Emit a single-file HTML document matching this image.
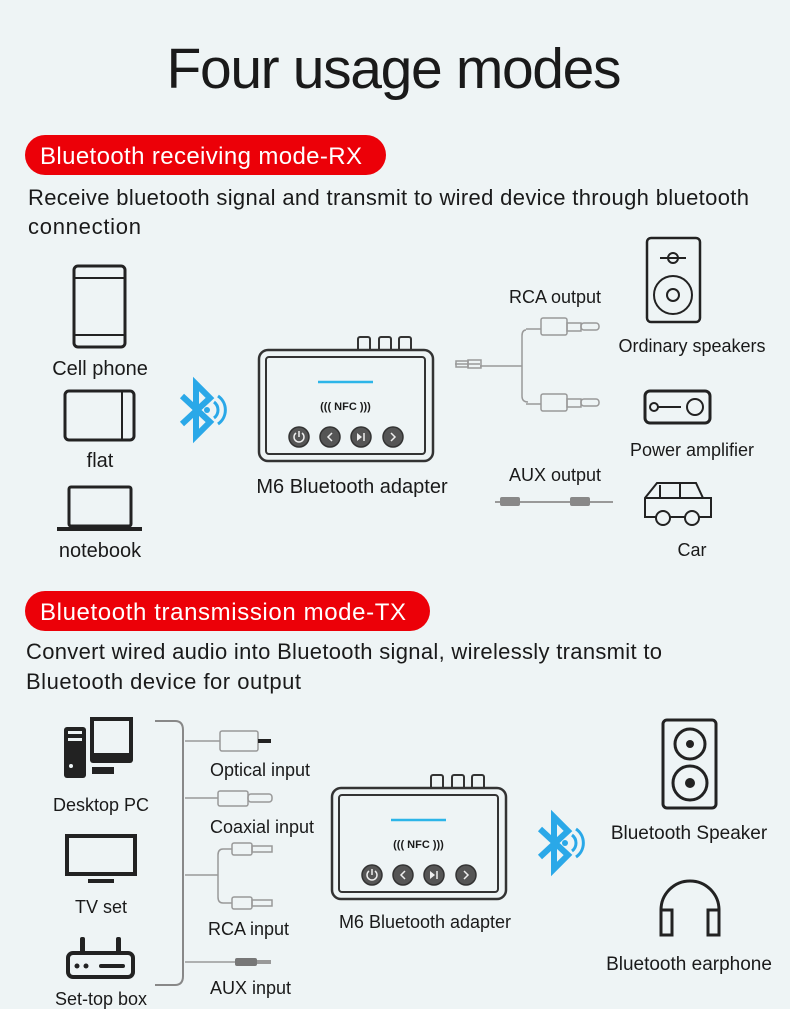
<!DOCTYPE html>
<html><head><meta charset="utf-8"><style>
html,body{margin:0;padding:0;background:#eef4f5}
svg{display:block}
text{font-family:"Liberation Sans",sans-serif;fill:#1a1a1a}
</style></head><body>
<svg width="790" height="1009" viewBox="0 0 790 1009" xmlns="http://www.w3.org/2000/svg">
<defs>
<g id="bt">
  <polyline points="-14,-14 14,12 0,26 0,-26 14,-12 -14,14" fill="none" stroke="#2aa8e8" stroke-width="6" stroke-linejoin="miter"/>
  <circle cx="11" cy="0" r="3" fill="#2aa8e8"/>
  <path d="M18,-8 A10,10 0 0 1 18,8" fill="none" stroke="#2aa8e8" stroke-width="3"/>
  <path d="M22,-14 A17,17 0 0 1 22,14" fill="none" stroke="#2aa8e8" stroke-width="3"/>
</g>
<g id="dev">
  <rect x="99" y="-13" width="12" height="14" rx="2" fill="none" stroke="#333" stroke-width="2"/>
  <rect x="120" y="-13" width="12" height="14" rx="2" fill="none" stroke="#333" stroke-width="2"/>
  <rect x="140" y="-13" width="12" height="14" rx="2" fill="none" stroke="#333" stroke-width="2"/>
  <rect x="0" y="0" width="174" height="111" rx="9" fill="#eef4f5" stroke="#333" stroke-width="2.5"/>
  <rect x="7" y="7" width="159" height="97" rx="3" fill="none" stroke="#333" stroke-width="2"/>
  <line x1="59" y1="32" x2="114" y2="32" stroke="#2cb5e8" stroke-width="2.5"/>
  <text x="86.5" y="60" font-size="11" font-weight="bold" text-anchor="middle" fill="#333">((( NFC )))</text>
  <g fill="#555" stroke="#333" stroke-width="1.5">
    <circle cx="40" cy="87" r="10"/><circle cx="71" cy="87" r="10"/><circle cx="102" cy="87" r="10"/><circle cx="134" cy="87" r="10"/>
  </g>
  <g fill="none" stroke="#eee" stroke-width="1.5">
    <path d="M37,83 A5,5 0 1 0 43,83"/><line x1="40" y1="81" x2="40" y2="87"/>
    <polyline points="73,83 69,87 73,91"/>
    <polyline points="132,83 136,87 132,91"/>
  </g>
  <polygon points="98,83 98,91 103,87" fill="#eee"/><line x1="105" y1="83" x2="105" y2="91" stroke="#eee" stroke-width="1.5"/>
</g>
</defs>

<text x="394" y="88" font-size="57" text-anchor="middle" textLength="455" fill="#111">Four usage modes</text>

<!-- Section 1 -->
<rect x="25" y="135" width="361" height="40" rx="20" fill="#ec0008"/>
<text x="40" y="164" font-size="24" fill="#fff" style="fill:#fff" textLength="322">Bluetooth receiving mode-RX</text>
<text x="28" y="205" font-size="22" textLength="721">Receive bluetooth signal and transmit to wired device through bluetooth</text>
<text x="28" y="234" font-size="22" textLength="113">connection</text>

<!-- phone -->
<rect x="74" y="266" width="51" height="81" rx="4" fill="none" stroke="#222" stroke-width="3"/>
<line x1="74" y1="278" x2="125" y2="278" stroke="#222" stroke-width="2"/>
<line x1="74" y1="335" x2="125" y2="335" stroke="#222" stroke-width="2"/>
<text x="100" y="375" font-size="20" text-anchor="middle">Cell phone</text>
<!-- tablet -->
<rect x="65" y="391" width="69" height="49" rx="4" fill="none" stroke="#222" stroke-width="3"/>
<line x1="122" y1="391" x2="122" y2="440" stroke="#222" stroke-width="2"/>
<text x="100" y="467" font-size="20" text-anchor="middle">flat</text>
<!-- laptop -->
<rect x="69" y="487" width="62" height="39" rx="2" fill="none" stroke="#222" stroke-width="3"/>
<rect x="57" y="527" width="85" height="4" fill="#222"/>
<text x="100" y="557" font-size="20" text-anchor="middle">notebook</text>

<use href="#bt" x="196" y="410"/>
<use href="#dev" x="259" y="350"/>
<text x="352" y="493" font-size="20" text-anchor="middle">M6 Bluetooth adapter</text>

<!-- RCA output cable -->
<text x="555" y="303" font-size="18" text-anchor="middle">RCA output</text>
<g fill="none" stroke="#999" stroke-width="1.5">
  <path d="M455,364 L480,364 M480,366 L522,366 M526,330 Q522,330 522,336 L522,396 Q522,402 528,402"/>
  <path d="M526,329 L541,329 M526,404 L541,404"/>
  <rect x="541" y="318" width="26" height="17" rx="2"/><rect x="567" y="323" width="14" height="8"/><rect x="581" y="323" width="18" height="7" rx="3"/>
  <rect x="541" y="394" width="26" height="17" rx="2"/><rect x="567" y="399" width="14" height="8"/><rect x="581" y="399" width="18" height="7" rx="3"/>
  <rect x="456" y="361" width="12" height="6"/><rect x="468" y="360" width="13" height="8"/>
</g>
<text x="555" y="481" font-size="18" text-anchor="middle">AUX output</text>
<line x1="495" y1="502" x2="613" y2="502" stroke="#999" stroke-width="2"/>
<rect x="500" y="497" width="20" height="9" rx="2" fill="#888"/>
<rect x="570" y="497" width="20" height="9" rx="2" fill="#888"/>

<!-- speaker -->
<rect x="647" y="238" width="53" height="84" rx="4" fill="none" stroke="#222" stroke-width="2.5"/>
<circle cx="673" cy="295" r="19" fill="none" stroke="#222" stroke-width="2"/>
<circle cx="673" cy="295" r="6" fill="none" stroke="#222" stroke-width="2"/>
<circle cx="673" cy="258" r="5" fill="none" stroke="#222" stroke-width="2"/>
<line x1="660" y1="258" x2="686" y2="258" stroke="#222" stroke-width="2"/>
<text x="692" y="352" font-size="18" text-anchor="middle">Ordinary speakers</text>
<!-- amp -->
<rect x="645" y="391" width="65" height="32" rx="5" fill="none" stroke="#222" stroke-width="3"/>
<circle cx="654" cy="407" r="4" fill="none" stroke="#222" stroke-width="2"/>
<line x1="658" y1="407" x2="681" y2="407" stroke="#222" stroke-width="2"/>
<circle cx="695" cy="407" r="8" fill="none" stroke="#222" stroke-width="2"/>
<text x="692" y="456" font-size="18" text-anchor="middle">Power amplifier</text>
<!-- car -->
<path d="M645,517 L645,498 L657,483 L696,483 L703,498 L711,498 L711,517 Z M660,485 L660,498 M680,483 L680,498 M645,498 L711,498" fill="none" stroke="#222" stroke-width="2"/>
<circle cx="663" cy="518" r="7" fill="#eef4f5" stroke="#222" stroke-width="2"/>
<circle cx="692" cy="518" r="7" fill="#eef4f5" stroke="#222" stroke-width="2"/>
<text x="692" y="556" font-size="18" text-anchor="middle">Car</text>

<!-- Section 2 -->
<rect x="25" y="591" width="405" height="40" rx="20" fill="#ec0008"/>
<text x="40" y="620" font-size="24" style="fill:#fff" textLength="366">Bluetooth transmission mode-TX</text>
<text x="26" y="659" font-size="22" textLength="636">Convert wired audio into Bluetooth signal, wirelessly transmit to</text>
<text x="26" y="689" font-size="22" textLength="275">Bluetooth device for output</text>

<!-- PC -->
<rect x="64" y="727" width="22" height="51" rx="3" fill="#222"/>
<rect x="68" y="731" width="14" height="3" fill="#eef4f5"/><rect x="68" y="738" width="14" height="3" fill="#eef4f5"/>
<circle cx="71" cy="766" r="2" fill="#eef4f5"/>
<rect x="90" y="717" width="43" height="46" rx="3" fill="#222"/>
<rect x="90" y="717" width="43" height="40" fill="#222"/>
<rect x="94" y="721" width="35" height="32" fill="#eef4f5"/>
<rect x="92" y="767" width="22" height="7" fill="#222"/>
<text x="101" y="811" font-size="18" text-anchor="middle">Desktop PC</text>
<!-- TV -->
<rect x="67" y="836" width="68" height="38" fill="none" stroke="#222" stroke-width="4"/>
<rect x="88" y="879" width="26" height="4" fill="#222"/>
<text x="101" y="913" font-size="18" text-anchor="middle">TV set</text>
<!-- set-top -->
<rect x="68" y="953" width="65" height="24" rx="5" fill="none" stroke="#222" stroke-width="4"/>
<rect x="80" y="937" width="5" height="16" rx="2" fill="#222"/><rect x="116" y="937" width="5" height="16" rx="2" fill="#222"/>
<circle cx="77" cy="966" r="2.5" fill="#222"/><circle cx="86" cy="966" r="2.5" fill="#222"/>
<rect x="99" y="964" width="26" height="4" rx="2" fill="#222"/>
<text x="101" y="1005" font-size="18" text-anchor="middle">Set-top box</text>

<!-- bracket -->
<path d="M155,721 L175,721 Q183,721 183,730 L183,976 Q183,985 175,985 L155,985" fill="none" stroke="#888" stroke-width="2"/>
<g fill="none" stroke="#999" stroke-width="1.5">
  <line x1="185" y1="741" x2="220" y2="741"/>
  <rect x="220" y="731" width="38" height="20" rx="2"/>
  <line x1="185" y1="798" x2="218" y2="798"/>
  <rect x="218" y="791" width="30" height="15" rx="2"/><rect x="248" y="794" width="24" height="8" rx="3"/>
  <path d="M185,875 L218,875 M223,849 Q218,849 218,855 L218,897 Q218,903 223,903 L232,903 M223,849 L232,849"/>
  <rect x="232" y="843" width="20" height="12" rx="2"/><rect x="252" y="846" width="20" height="6"/>
  <rect x="232" y="897" width="20" height="12" rx="2"/><rect x="252" y="900" width="20" height="6"/>
  <line x1="185" y1="962" x2="235" y2="962"/>
</g>
<rect x="258" y="739" width="13" height="4" fill="#222"/>
<rect x="235" y="958" width="22" height="8" rx="2" fill="#777"/>
<rect x="257" y="960" width="14" height="4" fill="#999"/>
<text x="210" y="776" font-size="18">Optical input</text>
<text x="210" y="833" font-size="18">Coaxial input</text>
<text x="208" y="935" font-size="18">RCA input</text>
<text x="210" y="994" font-size="18">AUX input</text>

<use href="#dev" x="332" y="788"/>
<text x="425" y="928" font-size="18" text-anchor="middle">M6 Bluetooth adapter</text>

<use href="#bt" x="554" y="843"/>
<!-- BT speaker -->
<rect x="663" y="720" width="53" height="88" rx="4" fill="none" stroke="#222" stroke-width="3"/>
<circle cx="690" cy="744" r="15" fill="none" stroke="#222" stroke-width="3"/><circle cx="690" cy="744" r="4" fill="#222"/>
<circle cx="690" cy="783" r="17" fill="none" stroke="#222" stroke-width="3"/><circle cx="690" cy="783" r="5" fill="#222"/>
<text x="689" y="839" font-size="19" text-anchor="middle">Bluetooth Speaker</text>
<!-- headphones -->
<path d="M661,930 L661,910 A29,29 0 0 1 719,910 L719,930" fill="none" stroke="#222" stroke-width="3"/>
<path d="M661,910 L672,910 L672,935 L661,935 Z M719,910 L708,910 L708,935 L719,935 Z" fill="#eef4f5" stroke="#222" stroke-width="3"/>
<text x="689" y="970" font-size="19" text-anchor="middle">Bluetooth earphone</text>
</svg>
</body></html>
